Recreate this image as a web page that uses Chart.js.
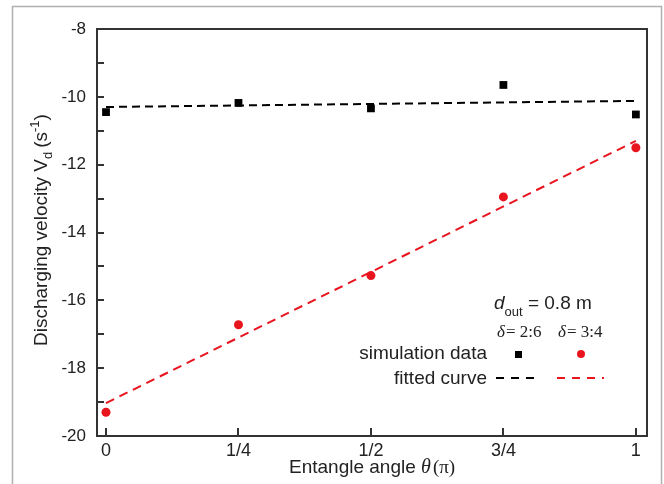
<!DOCTYPE html>
<html>
<head>
<meta charset="utf-8">
<script src="https://cdn.jsdelivr.net/npm/chart.js@4"></script>
<style>
  html, body { margin: 0; padding: 0; background: #fff; }
  #wrap { width: 664px; height: 484px; }
</style>
</head>
<body>
<div id="wrap"><canvas id="chart" width="664" height="484"></canvas></div>
<script>
// values
const angles = [0, 0.25, 0.5, 0.75, 1];
const angleLabels = ["0", "1/4", "1/2", "3/4", "1"];
const simA = [-10.45, -10.18, -10.34, -9.65, -10.52];   // delta = 2:6
const simB = [-19.3, -16.72, -15.27, -12.95, -11.5];     // delta = 3:4
const fitX = [0, 1];
const fitA = [-10.3, -10.12];
const fitB = [-19.03, -11.3];
const yTicks = [-20, -18, -16, -14, -12, -10, -8];

const SANS = "'Liberation Sans', Arial, sans-serif";
const SERIF = "'Liberation Serif', 'Times New Roman', serif";
const INK = "#222";

function pts(xs, ys) {
  return xs.map((x, i) => ({ x: x, y: ys[i] }));
}

function text(ctx, str, x, y, font, align) {
  ctx.font = font;
  ctx.textAlign = align || "left";
  ctx.fillText(str, x, y);
  return ctx.measureText(str).width;
}

const decor = {
  id: "decor",
  beforeDraw(chart) {
    const ctx = chart.ctx;
    ctx.save();
    ctx.fillStyle = "#fff";
    ctx.fillRect(0, 0, chart.width, chart.height);
    ctx.strokeStyle = "#b0b0b0";
    ctx.lineWidth = 1.5;
    ctx.strokeRect(12.5, 6.5, 649, 520);
    ctx.restore();
  },
  afterDatasetsDraw(chart) {
    const ctx = chart.ctx;
    const a = chart.chartArea;
    const xs = chart.scales.x, ys = chart.scales.y;
    ctx.save();
    ctx.strokeStyle = "#333";
    ctx.lineWidth = 2;
    ctx.strokeRect(a.left, a.top, a.right - a.left, a.bottom - a.top);

    // inward ticks
    ctx.lineWidth = 2;
    ctx.beginPath();
    angles.forEach(v => {
      const px = Math.round(xs.getPixelForValue(v));
      ctx.moveTo(px, a.bottom);
      ctx.lineTo(px, a.bottom - 8);
    });
    for (let v = -19; v <= -9; v++) {
      const py = Math.round(ys.getPixelForValue(v));
      ctx.moveTo(a.left, py);
      ctx.lineTo(a.left + 7, py);
    }
    ctx.stroke();

    ctx.fillStyle = INK;
    ctx.textBaseline = "alphabetic";

    // x title
    let x = 289, y = 473;
    x += text(ctx, "Entangle angle ", x, y, "19px " + SANS);
    x += text(ctx, "\u03b8", x, y, "italic 20px " + SERIF);
    x += 2;
    text(ctx, "(\u03c0)", x, y, "19px " + SERIF);

    // y title (rotated)
    ctx.save();
    ctx.translate(47, 346);
    ctx.rotate(-Math.PI / 2);
    x = 0;
    x += text(ctx, "Discharging velocity ", x, 0, "19px " + SANS);
    x += text(ctx, "V", x, 0, "19px " + SANS);
    x += text(ctx, "d", x, 5, "13px " + SANS);
    x += 4;
    x += text(ctx, "(s", x, 0, "19px " + SANS);
    x += text(ctx, "-1", x, -8, "13px " + SANS);
    text(ctx, ")", x, 0, "19px " + SANS);
    ctx.restore();

    // legend block
    x = 494; y = 309;
    x += text(ctx, "d", x, y, "italic 19px " + SANS);
    x += text(ctx, "out", x, y + 7, "13px " + SANS);
    text(ctx, " = 0.8 m", x, y, "19px " + SANS);

    y = 337;
    x = 497;
    x += text(ctx, "\u03b4", x, y, "italic 17px " + SERIF);
    text(ctx, "= 2:6", x + 1, y, "17px " + SERIF);
    x = 558;
    x += text(ctx, "\u03b4", x, y, "italic 17px " + SERIF);
    text(ctx, "= 3:4", x + 1, y, "17px " + SERIF);

    text(ctx, "simulation data", 487, 359, "19px " + SANS, "right");
    text(ctx, "fitted curve", 487, 384, "19px " + SANS, "right");

    const dsA = chart.data.datasets[0], dsB = chart.data.datasets[1];
    ctx.fillStyle = dsA.backgroundColor;
    ctx.fillRect(515, 351, 7, 7);
    ctx.fillStyle = dsB.backgroundColor;
    ctx.beginPath();
    ctx.arc(581, 354, 4, 0, Math.PI * 2);
    ctx.fill();

    ctx.lineWidth = 2;
    ctx.setLineDash([8, 7]);
    ctx.strokeStyle = chart.data.datasets[2].borderColor;
    ctx.beginPath(); ctx.moveTo(496, 378); ctx.lineTo(541, 378); ctx.stroke();
    ctx.strokeStyle = chart.data.datasets[3].borderColor;
    ctx.beginPath(); ctx.moveTo(557, 378); ctx.lineTo(604, 378); ctx.stroke();
    ctx.restore();
  }
};

new Chart(document.getElementById("chart"), {
  type: "scatter",
  data: {
    datasets: [
      { label: "simulation data 2:6", data: pts(angles, simA), pointStyle: "rect",
        pointRadius: 5.5, backgroundColor: "#000", borderWidth: 0, showLine: false, order: 1 },
      { label: "simulation data 3:4", data: pts(angles, simB), pointStyle: "circle",
        pointRadius: 4.5, backgroundColor: "#e8141e", borderWidth: 0, showLine: false, order: 1 },
      { label: "fitted 2:6", data: pts(fitX, fitA), showLine: true, pointRadius: 0,
        borderColor: "#000", borderWidth: 2, borderDash: [8, 5], fill: false, order: 2 },
      { label: "fitted 3:4", data: pts(fitX, fitB), showLine: true, pointRadius: 0,
        borderColor: "#e8141e", borderWidth: 2, borderDash: [9, 6], fill: false, order: 2 }
    ]
  },
  options: {
    responsive: false,
    animation: false,
    layout: { padding: { left: 0, top: 29, right: 17, bottom: 0 } },
    plugins: { legend: { display: false }, tooltip: { enabled: false } },
    scales: {
      x: {
        type: "linear", min: -0.017, max: 1.021,
        afterBuildTicks: s => { s.ticks = angles.map(v => ({ value: v })); },
        afterFit: s => { s.height = 48; },
        grid: { display: false, drawTicks: false },
        border: { display: false },
        ticks: {
          padding: 4, color: INK, font: { family: SANS, size: 18 },
          maxRotation: 0, autoSkip: false,
          callback: (v) => { const i = angles.indexOf(v); return i >= 0 ? angleLabels[i] : ""; }
        }
      },
      y: {
        type: "linear", min: -20, max: -8,
        afterBuildTicks: s => { s.ticks = yTicks.map(v => ({ value: v })); },
        afterFit: s => { s.width = 97; },
        grid: { display: false, drawTicks: false },
        border: { display: false },
        ticks: { padding: 11, color: INK, font: { family: SANS, size: 17 } }
      }
    }
  },
  plugins: [decor]
});
</script>
</body>
</html>
